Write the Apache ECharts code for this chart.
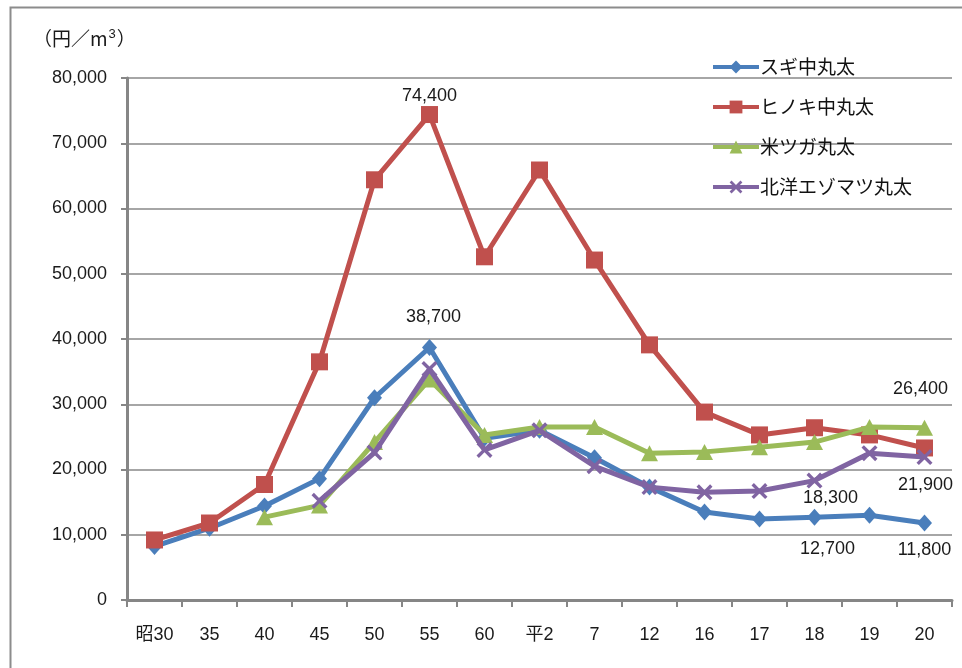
<!DOCTYPE html>
<html>
<head>
<meta charset="utf-8">
<script src="https://cdn.jsdelivr.net/npm/echarts@6/dist/echarts.min.js"></script>
<style>
html,body{margin:0;padding:0;background:#fff;}
#chart{width:962px;height:668px;}
</style>
</head>
<body>
<div id="chart"></div>
<script>
const categories = ['昭30','35','40','45','50','55','60','平2','7','12','16','17','18','19','20'];
const seriesNames = ['スギ中丸太','ヒノキ中丸太','米ツガ丸太','北洋エゾマツ丸太'];
const sugi   = [8200, 11000, 14400, 18600, 31000, 38700, 24800, 26000, 21800, 17300, 13500, 12400, 12700, 13000, 11800];
const hinoki = [9200, 11800, 17700, 36500, 64400, 74400, 52600, 65900, 52100, 39100, 28800, 25300, 26400, 25300, 23300];
const beitsuga = [null, null, 12700, 14500, 24200, 33800, 25300, 26500, 26500, 22500, 22700, 23400, 24200, 26500, 26400];
const hokuyo = [null, null, null, 15200, 22600, 35400, 23000, 26000, 20500, 17300, 16500, 16700, 18300, 22500, 21900];
const yTicks = [0, 10000, 20000, 30000, 40000, 50000, 60000, 70000, 80000];

const numFont = '"Liberation Sans", "Noto Sans CJK JP", sans-serif';
const jpFont = '"Noto Sans CJK JP", "Liberation Sans", sans-serif';

// labelled points: [seriesIndex, categoryIndex, offset]
const labelled = [
  [1, 5, [0, -19]],
  [0, 5, [4, -30]],
  [2, 14, [-4, -39]],
  [3, 14, [1, 28]],
  [3, 12, [16, 17]],
  [0, 12, [13, 32]],
  [0, 14, [0, 27]]
];

function fmt(v){ return v.toLocaleString('en-US'); }

const allData = [sugi, hinoki, beitsuga, hokuyo];
const colors = ['#4A7EBB', '#C0504D', '#9BBB59', '#8064A2'];
const symbols = ['diamond', 'rect', 'triangle',
  'path://M0,1.5L1.5,0L5,3.5L8.5,0L10,1.5L6.5,5L10,8.5L8.5,10L5,6.5L1.5,10L0,8.5L3.5,5Z'];
const symbolSizes = [[15,17], 17, [17,16], 16];

function buildData(si){
  return allData[si].map((v, ci) => {
    const hit = labelled.find(l => l[0] === si && l[1] === ci);
    if (hit && v != null) {
      return {
        value: v,
        label: {
          show: true, position: 'inside', offset: hit[2],
          formatter: fmt(v), color: '#1a1a1a', fontSize: 18, fontFamily: numFont
        }
      };
    }
    return v;
  });
}

const chart = echarts.init(document.getElementById('chart'), null, {renderer: 'canvas'});
chart.setOption({
  animation: false,
  backgroundColor: '#fff',
  graphic: [
    { type: 'rect', left: 8, top: 5, shape: {width: 1000, height: 700},
      style: {fill: 'none', stroke: '#8c8c8c', lineWidth: 2}, z: -1 },
    { type: 'text', left: 33, top: 28,
      style: { text: '（円／m{s|3}）', rich: { s: {fontSize: 13, verticalAlign: 'top', fontFamily: numFont, padding: [0,1,8,1]} },
        font: '19px ' + jpFont, fill: '#1a1a1a' } }
  ],
  legend: {
    orient: 'vertical',
    left: 706, top: 52,
    itemWidth: 46, itemHeight: 16, itemGap: 20,
    lineStyle: { width: 4 },
    textStyle: { fontSize: 19, fontFamily: jpFont, color: '#111', lineHeight: 20, padding: [0,0,0,-4] },
    data: seriesNames
  },
  grid: { left: 127, right: 10, top: 78, bottom: 68, containLabel: false },
  xAxis: {
    type: 'category',
    data: categories,
    boundaryGap: true,
    axisLine: { lineStyle: { color: '#868686', width: 3 } },
    axisTick: { show: true, length: 7, lineStyle: { color: '#868686', width: 2 } },
    axisLabel: { margin: 26, fontSize: 18, fontFamily: numFont, color: '#1a1a1a' }
  },
  yAxis: {
    type: 'value',
    min: 0, max: 80000, interval: 10000,
    axisLine: { show: true, lineStyle: { color: '#868686', width: 3 } },
    axisTick: { show: true, length: 6, lineStyle: { color: '#868686', width: 2 } },
    axisLabel: { margin: 20, fontSize: 18, fontFamily: numFont, color: '#1a1a1a',
      formatter: v => yTicks.indexOf(v) >= 0 ? fmt(v) : '' },
    splitLine: { show: true, lineStyle: { color: '#a6a6a6', width: 2 } }
  },
  series: seriesNames.map((name, si) => ({
    name: name,
    type: 'line',
    data: buildData(si),
    connectNulls: false,
    color: colors[si],
    symbol: symbols[si],
    symbolSize: symbolSizes[si],
    showAllSymbol: true,
    lineStyle: { width: 5, color: colors[si] },
    itemStyle: { color: colors[si] },
    emphasis: { disabled: true },
    z: 2 + si
  }))
});
</script>
</body>
</html>
